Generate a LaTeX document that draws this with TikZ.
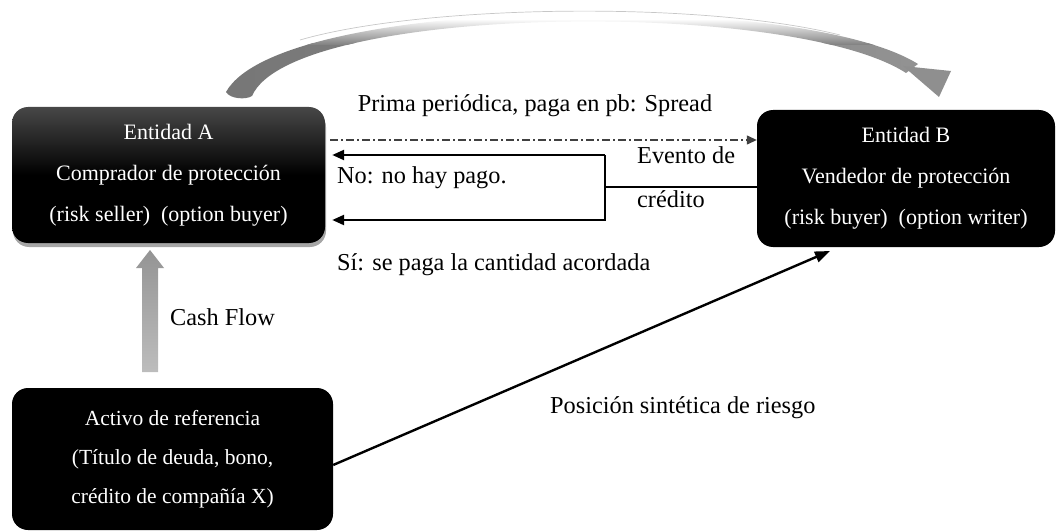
\documentclass[tikz,border=0pt]{standalone}
\usepackage{fontspec}
\setmainfont{Liberation Serif}
\usetikzlibrary{arrows.meta,shadows,calc}
\begin{document}
\begin{tikzpicture}[x=1pt,y=-1pt,
  boxbase/.style={rounded corners=16pt, inner sep=0pt, text=white, align=center,
    font=\fontsize{22}{41}\selectfont},
  lbl/.style={font=\fontsize{24.3}{28}\selectfont, inner sep=0pt, text=black},
  heavy/.style={line width=2.4pt, line join=miter},
  tipS/.style={-{Triangle[length=12pt,width=10pt]}},
  dashdot/.style={line width=1.3pt, black!75, dash pattern=on 8pt off 3pt on 2pt off 3pt}
]
\useasboundingbox (0,0) rectangle (1057,532);

% boxes
\node[boxbase, minimum width=313pt, minimum height=136pt,
  top color=black!72, bottom color=black, middle color=black,
  drop shadow={shadow xshift=1pt, shadow yshift=-4pt, opacity=0.35, fill=black}]
  (A) at (168.5,175) {Entidad A\\Comprador de protección\\(risk seller)\ \ (option buyer)};
\node[boxbase, fill=black, minimum width=298pt, minimum height=137pt]
  (B) at (906,178.5) {Entidad B\\Vendedor de protección\\(risk buyer)\ \ (option writer)};
\node[boxbase, fill=black, minimum width=321pt, minimum height=142pt,
  font=\fontsize{21.5}{39}\selectfont]
  (C) at (172.5,459) {Activo de referencia\\(Título de deuda, bono,\\crédito de compañía X)};

% top curved arrow (band fading to white at its apex)
\begin{scope}
  \clip (226,92) .. controls (280,-5) and (800,-10) .. (918,64)
    -- (906,73) .. controls (790,-2) and (292,4) .. (252,96)
    .. controls (246,100) and (230,99) .. (226,92) -- cycle;
  \shade[left color=black!54, right color=black!42] (200,44) rectangle (960,102);
  \shade[top color=white, bottom color=black!49] (200,19) rectangle (960,44.5);
\end{scope}
\draw[black!22, line width=0.7pt] (300,40) .. controls (420,5) and (700,0) .. (840,35);
\fill[black!44] (903,66) -- (951,71) -- (939,97) -- cycle;

% cash flow arrow
\shade[top color=black!42, bottom color=black!26] (142,372) -- (142,268) -- (136,268) -- (150,250)
  -- (164,268) -- (158,268) -- (158,372) -- cycle;

% labels
\node[lbl, anchor=base] (prima) at (535,112) {Prima periódica, paga en pb: Spread};
\node[lbl, anchor=base west] (no) at (337,183) {No: no hay pago.};
\node[lbl, anchor=base west] (ev1) at (637,164) {Evento de};
\node[lbl, anchor=base west] (ev2) at (637,207) {crédito};
\node[lbl, anchor=base west] (si) at (337,270) {Sí: se paga la cantidad acordada};
\node[lbl, anchor=base west] (cash) at (170,325) {Cash Flow};
\node[lbl, anchor=base west] (pos) at (550,413) {Posición sintética de riesgo};

% connectors
\coordinate (dd) at (0,140);
\coordinate (j) at (605,187);
\coordinate (jt) at (605,155);
\coordinate (jb) at (605,220);
\coordinate (cs) at (0,465);
\coordinate (tipB) at (830,251);

\draw[dashdot, -{Triangle[length=10pt,width=9pt]}] ([xshift=5pt]A.east |- dd) -- (B.west |- dd);
\draw[line width=2pt] (B.west |- j) -- (j);
\draw[heavy, tipS] (jt) -- ([xshift=7pt]A.east |- jt);
\draw[heavy, tipS] (jt) -- (jb) -- ([xshift=7pt]A.east |- jb);
\draw[heavy, -{Triangle[length=15pt,width=11pt]}] (C.east |- cs) -- (tipB);
\end{tikzpicture}
\end{document}
